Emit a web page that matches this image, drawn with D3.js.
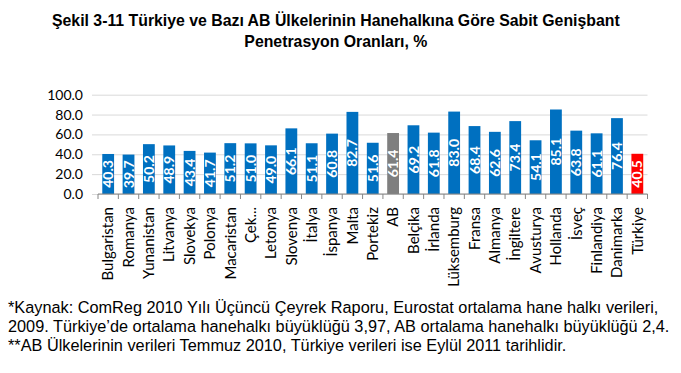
<!DOCTYPE html>
<html>
<head>
<meta charset="utf-8">
<script src="https://cdn.jsdelivr.net/npm/d3@7"></script>
<style>
  body { margin: 0; background: #fff; }
  svg { display: block; }
</style>
</head>
<body>
<div id="chart"></div>
<script>
// data
const countries = ["Bulgaristan", "Romanya", "Yunanistan", "Litvanya", "Slovekya", "Polonya",
  "Macaristan", "Çek...", "Letonya", "Slovenya", "İtalya", "İspanya", "Malta", "Portekiz", "AB",
  "Belçika", "İrlanda", "Lüksemburg", "Fransa", "Almanya", "İngiltere", "Avusturya", "Hollanda",
  "İsveç", "Finlandiya", "Danimarka", "Türkiye"];
const rates = [40.3, 39.7, 50.2, 48.9, 43.4, 41.7, 51.2, 51.0, 49.0, 66.1, 51.1, 60.8, 82.7, 51.6,
  61.4, 69.2, 61.8, 83.0, 68.4, 62.6, 73.4, 54.1, 85.1, 63.8, 61.1, 76.4, 40.5];
const yTicks = [0, 20, 40, 60, 80, 100];
const titleLines = ["Şekil 3-11 Türkiye ve Bazı AB Ülkelerinin Hanehalkına Göre Sabit Genişbant",
  "Penetrasyon Oranları, %"];
const notes = ["*Kaynak: ComReg 2010 Yılı Üçüncü Çeyrek Raporu, Eurostat ortalama hane halkı verileri,",
  "2009. Türkiye’de ortalama hanehalkı büyüklüğü 3,97, AB ortalama hanehalkı büyüklüğü 2,4.",
  "**AB Ülkelerinin verileri Temmuz 2010, Türkiye verileri ise Eylül 2011 tarihlidir."];

const width = 681, height = 373;
const plotLeft = 98, plotRight = 647.5, plotTop = 94.7, plotBottom = 194;
const axisFont = "Lato, 'DejaVu Sans', sans-serif";
const titleFont = "'Liberation Sans', Arial, sans-serif";

const data = countries.map((c, i) => ({ country: c, value: rates[i] }));

const svg = d3.select("#chart").append("svg")
  .attr("width", width)
  .attr("height", height);

// title: size it so "...Sabit" runs from x=52 to x=538 like the original
const probe = svg.append("text")
  .style("font-family", titleFont).style("font-weight", "bold").style("font-size", "14px")
  .text(titleLines[0].replace(" Genişbant", ""));
const titleSize = 14 * 486 / probe.node().getComputedTextLength();
probe.remove();

const titles = svg.selectAll(".title")
  .data(titleLines)
  .enter()
  .append("text")
  .attr("class", "title")
  .attr("y", (d, i) => 26 + i * 20.5)
  .attr("text-anchor", "middle")
  .style("font-family", titleFont)
  .style("font-weight", "bold")
  .style("font-size", titleSize + "px")
  .text(d => d);
const line1W = titles.nodes()[0].getComputedTextLength();
titles.attr("x", 52 + line1W / 2);

const x = d3.scaleBand()
  .domain(countries)
  .range([plotLeft, plotRight])
  .paddingInner(0.42)
  .paddingOuter(0.21);

const y = d3.scaleLinear()
  .domain([0, 100])
  .range([plotBottom, plotTop]);

// gridlines + y labels
const yAxis = svg.append("g")
  .attr("transform", `translate(${plotLeft},0)`)
  .call(d3.axisLeft(y).tickValues(yTicks).tickSize(6).tickFormat(d3.format(".1f")));
yAxis.select(".domain").remove();
yAxis.selectAll(".tick line")
  .attr("x1", -6)
  .attr("x2", plotRight - plotLeft)
  .attr("stroke", "#d9d9d9");
yAxis.selectAll(".tick text")
  .attr("x", -15)
  .style("font-family", axisFont)
  .style("font-size", "14px")
  .style("fill", "#000");

// bars
const colorOf = d => d.country === "AB" ? "#7f7f7f" : d.country === "Türkiye" ? "#ff0000" : "#0070c0";
svg.selectAll("rect.bar")
  .data(data)
  .enter()
  .append("rect")
  .attr("class", "bar")
  .attr("x", d => x(d.country))
  .attr("y", d => y(d.value))
  .attr("width", x.bandwidth())
  .attr("height", d => y(0) - y(d.value))
  .attr("fill", colorOf);

// value labels, rotated, centered in the bar
svg.selectAll("text.val")
  .data(data)
  .enter()
  .append("text")
  .attr("class", "val")
  .attr("transform", d => {
    const cx = x(d.country) + x.bandwidth() / 2;
    const cy = Math.min((y(d.value) + y(0)) / 2, y(0) - 17);
    return `translate(${cx},${cy}) rotate(-90)`;
  })
  .attr("dy", "0.36em")
  .attr("text-anchor", "middle")
  .style("font-family", axisFont)
  .style("font-weight", "bold")
  .style("font-size", "14px")
  .style("fill", "#fff")
  .text(d => d.value.toFixed(1));

// x axis with ticks between categories
const step = x.step();
const bounds = d3.range(countries.length + 1).map(i => plotLeft + i * step);
svg.append("line")
  .attr("x1", plotLeft).attr("x2", plotRight)
  .attr("y1", plotBottom).attr("y2", plotBottom)
  .attr("stroke", "#868686");
svg.selectAll("line.xt")
  .data(bounds)
  .enter()
  .append("line")
  .attr("class", "xt")
  .attr("x1", d => d).attr("x2", d => d)
  .attr("y1", plotBottom).attr("y2", plotBottom + 5)
  .attr("stroke", "#868686");

svg.selectAll("text.cat")
  .data(countries)
  .enter()
  .append("text")
  .attr("class", "cat")
  .attr("transform", d => `translate(${x(d) + x.bandwidth() / 2},${plotBottom + 13}) rotate(-90)`)
  .attr("dy", "0.35em")
  .attr("text-anchor", "end")
  .style("font-family", axisFont)
  .style("font-size", "15px")
  .style("fill", "#000")
  .text(d => d);

// footnotes
svg.selectAll(".note")
  .data(notes)
  .enter()
  .append("text")
  .attr("x", 8)
  .attr("y", (d, i) => 312.5 + i * 19)
  .style("font-family", titleFont)
  .style("font-size", "16.3px")
  .text(d => d);
</script>
</body>
</html>
